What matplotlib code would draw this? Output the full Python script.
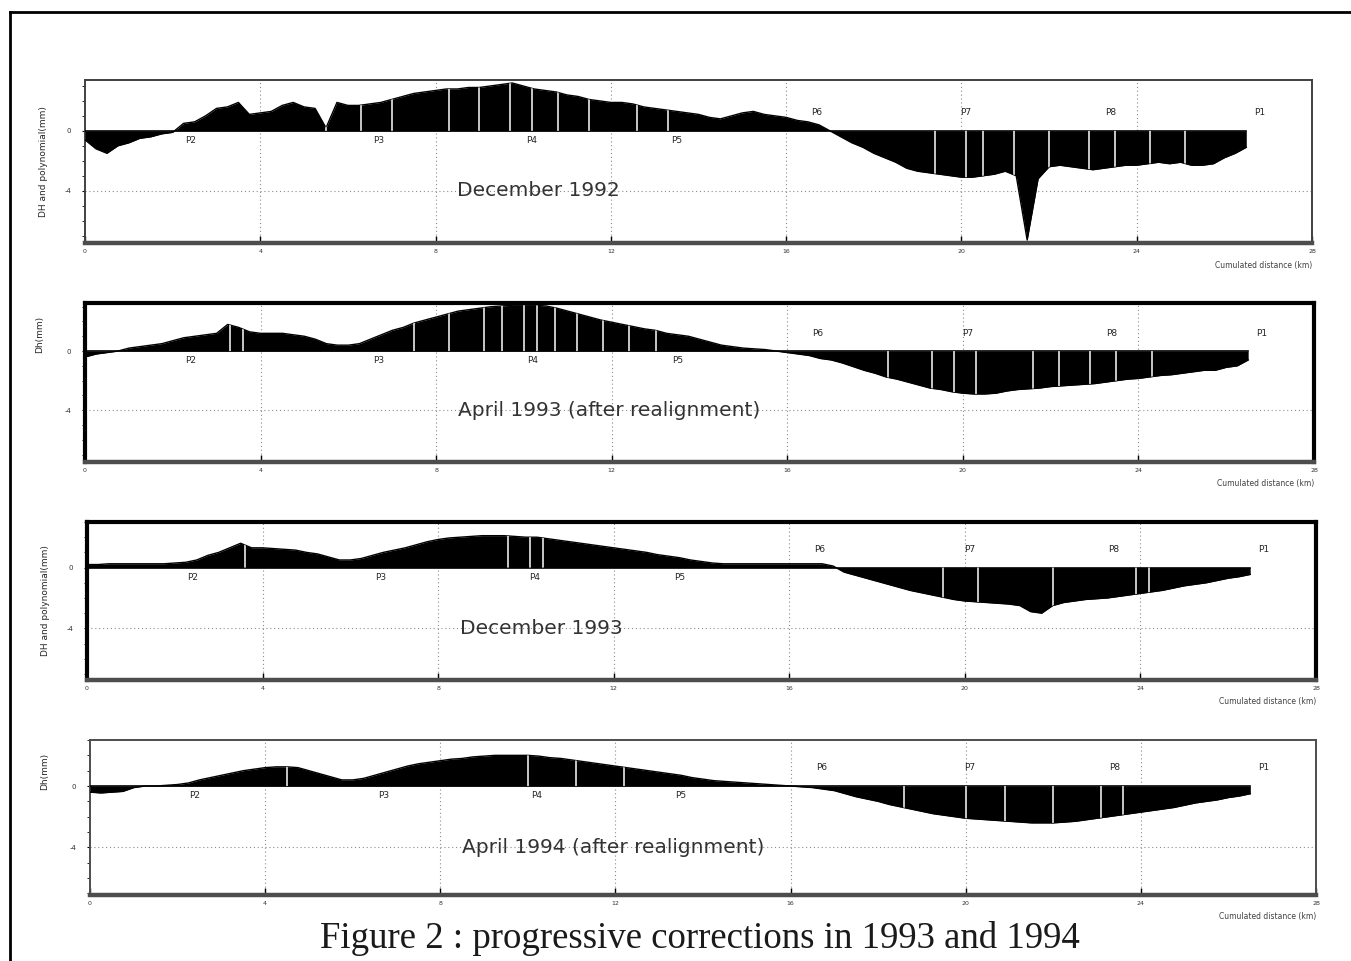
import matplotlib

matplotlib.use("Agg")
import matplotlib.pyplot as plt
import numpy as np
from matplotlib.lines import Line2D

# profiles, one value every 0.25 km from 0 km
STEP_KM = 0.25

dec92 = [-0.6, -1.2, -1.5, -1.0, -0.8, -0.5, -0.4, -0.2, -0.1,
         0.5, 0.6, 1.0, 1.5, 1.6, 1.9, 1.1, 1.2,
         1.3, 1.7, 1.9, 1.6, 1.5, 0.2, 1.9, 1.7,
         1.7, 1.8, 1.9, 2.1, 2.3, 2.5, 2.6, 2.7,
         2.8, 2.8, 2.9, 2.9, 3.0, 3.1, 3.2, 3.0,
         2.8, 2.7, 2.6, 2.4, 2.3, 2.1, 2.0, 1.9,
         1.9, 1.8, 1.6, 1.5, 1.4, 1.3, 1.2, 1.1,
         0.9, 0.8, 1.0, 1.2, 1.3, 1.1, 1.0, 0.9,
         0.7, 0.6, 0.4, 0.0, -0.4, -0.8, -1.1, -1.5,
         -1.8, -2.1, -2.5, -2.7, -2.8, -2.9, -3.0, -3.1,
         -3.1, -3.0, -2.9, -2.7, -3.0, -7.3, -3.2, -2.4,
         -2.3, -2.4, -2.5, -2.6, -2.5, -2.4, -2.3, -2.3,
         -2.2, -2.1, -2.2, -2.1, -2.3, -2.3, -2.2, -1.8,
         -1.5, -1.1]

apr93 = [-0.4, -0.2, -0.1, 0.0, 0.2, 0.3, 0.4, 0.5, 0.7,
         0.9, 1.0, 1.1, 1.2, 1.8, 1.6, 1.3, 1.2,
         1.2, 1.2, 1.1, 1.0, 0.8, 0.5, 0.4, 0.4,
         0.5, 0.8, 1.1, 1.4, 1.6, 1.9, 2.1, 2.3,
         2.5, 2.7, 2.8, 2.9, 3.0, 3.05, 3.1, 3.1,
         3.1, 3.05, 2.9, 2.7, 2.5, 2.3, 2.1, 1.95,
         1.8, 1.65, 1.5, 1.4, 1.2, 1.1, 1.0, 0.8,
         0.6, 0.4, 0.3, 0.2, 0.15, 0.1, 0.0, -0.1,
         -0.2, -0.3, -0.5, -0.6, -0.8, -1.05, -1.3, -1.5,
         -1.75, -1.9, -2.1, -2.3, -2.5, -2.6, -2.75, -2.85,
         -2.9, -2.9, -2.85, -2.7, -2.6, -2.55, -2.5, -2.4,
         -2.35, -2.3, -2.25, -2.2, -2.1, -2.0, -1.9, -1.85,
         -1.75, -1.65, -1.6, -1.5, -1.4, -1.3, -1.3, -1.1,
         -1.0, -0.6]

dec93 = [0.2, 0.2, 0.25, 0.25, 0.25, 0.25, 0.25, 0.25, 0.3,
         0.35, 0.5, 0.8, 1.0, 1.3, 1.6, 1.3, 1.3,
         1.25, 1.2, 1.15, 1.0, 0.9, 0.7, 0.5, 0.5,
         0.6, 0.8, 1.0, 1.15, 1.3, 1.5, 1.7, 1.85,
         1.95, 2.0, 2.05, 2.1, 2.1, 2.1, 2.05, 2.0,
         2.0, 1.9, 1.8, 1.7, 1.6, 1.5, 1.4, 1.3,
         1.2, 1.1, 1.0, 0.85, 0.75, 0.65, 0.5, 0.4,
         0.3, 0.25, 0.25, 0.25, 0.25, 0.25, 0.25, 0.25,
         0.25, 0.25, 0.25, 0.1, -0.3, -0.5, -0.7, -0.9,
         -1.1, -1.3, -1.5, -1.65, -1.8, -1.95, -2.1, -2.2,
         -2.25, -2.3, -2.35, -2.4, -2.5, -2.9, -3.0, -2.5,
         -2.3, -2.2, -2.1, -2.05, -2.0, -1.9, -1.8, -1.7,
         -1.6, -1.5, -1.35, -1.2, -1.1, -1.0, -0.85, -0.7,
         -0.6, -0.45]

apr94 = [-0.4, -0.45, -0.4, -0.35, -0.1, 0.0, 0.0, 0.05, 0.1,
         0.2, 0.4, 0.55, 0.7, 0.85, 1.0, 1.1, 1.2,
         1.25, 1.25, 1.2, 1.0, 0.8, 0.6, 0.4, 0.4,
         0.5, 0.7, 0.9, 1.1, 1.3, 1.45, 1.55, 1.65,
         1.75, 1.8, 1.9, 1.95, 2.0, 2.0, 2.0, 2.0,
         1.95, 1.85, 1.8, 1.7, 1.6, 1.5, 1.4, 1.3,
         1.2, 1.1, 1.0, 0.9, 0.8, 0.7, 0.55, 0.45,
         0.35, 0.3, 0.25, 0.2, 0.15, 0.1, 0.05, 0.0,
         -0.05, -0.1, -0.2, -0.3, -0.5, -0.7, -0.85, -1.0,
         -1.2, -1.35, -1.5, -1.65, -1.8, -1.9, -2.0, -2.1,
         -2.15, -2.2, -2.25, -2.3, -2.35, -2.4, -2.4, -2.4,
         -2.35, -2.3, -2.2, -2.1, -2.0, -1.9, -1.8, -1.7,
         -1.6, -1.5, -1.4, -1.25, -1.1, -1.0, -0.9, -0.75,
         -0.65, -0.5]

# light streaks inside the filled profiles (km)
streaks92 = [5.5, 6.3, 7.0, 8.3, 9.0, 9.7, 10.2, 10.8, 11.5, 12.6, 13.3,
             19.4, 20.1, 20.5, 21.2, 22.0, 22.9, 23.5, 24.3, 25.1]
streaks93a = [3.3, 3.6, 7.5, 8.3, 9.1, 9.5, 10.0, 10.3, 10.7, 11.2, 11.8, 12.4, 13.0,
              18.3, 19.3, 19.8, 20.3, 21.6, 22.2, 22.9, 23.5, 24.3]
streaks93d = [3.6, 9.6, 10.1, 10.4, 19.5, 20.3, 22.0, 23.9, 24.2]
streaks94 = [4.5, 10.0, 11.1, 12.2, 18.6, 20.0, 20.9, 22.0, 23.1, 23.6]

benchmarks = ["P2", "P3", "P4", "P5", "P6", "P7", "P8", "P1"]
benchmark_km = [2.4, 6.7, 10.2, 13.5, 16.7, 20.1, 23.4, 26.8]

x_ticks = [0, 4, 8, 12, 16, 20, 24, 28]
y_ticks = [0, -4]

titles = ["December 1992", "April 1993 (after realignment)",
          "December 1993", "April 1994 (after realignment)"]
ylabels = ["DH and polynomial(mm)", "Dh(mm)", "DH and polynomial(mm)", "Dh(mm)"]
caption = "Figure 2 : progressive corrections in 1993 and 1994"

W, H = 1351, 961
fig = plt.figure(figsize=(W / 100, H / 100), dpi=100)
fig.patch.set_facecolor("white")

# axes boxes in pixels: left, top, right, bottom
boxes = [(85, 80, 1312, 243), (85, 303, 1314, 462),
         (87, 522, 1316, 680), (90, 740, 1316, 895)]
ylims = [(-7.5, 3.4), (-7.5, 3.25), (-7.4, 2.95), (-7.1, 3.0)]
frame_w = [1.4, 3.0, 3.0, 1.4]
frame_c = ["0.25", "black", "black", "0.3"]
title_x = [8.5, 8.5, 8.5, 8.5]

profiles = [dec92, apr93, dec93, apr94]
streak_sets = [streaks92, streaks93a, streaks93d, streaks94]

for i in range(4):
    l, t, r, b = boxes[i]
    ax = fig.add_axes([l / W, 1 - b / H, (r - l) / W, (b - t) / H])
    vals = np.array(profiles[i])
    km = np.arange(len(vals)) * STEP_KM

    poly = ax.fill_between(km, vals, 0, color="black", lw=0, zorder=3)
    ax.plot(km, vals, color="black", lw=1.0, zorder=3)
    ax.plot([km[0], km[-1]], [0, 0], color="black", lw=1.2, zorder=3)
    st = ax.vlines(streak_sets[i], -8, 4, colors="#d8d8d8", lw=1.3, zorder=4)
    st.set_clip_path(poly.get_paths()[0], ax.transData)

    ax.set_xlim(0, 28)
    ax.set_ylim(*ylims[i])

    for xv in x_ticks[1:-1]:
        ax.axvline(xv, color="0.55", ls=(0, (1, 2.5)), lw=0.8, zorder=1)
    ax.axhline(-4, color="0.55", ls=(0, (1, 2.5)), lw=0.8, zorder=1)

    for name, xk in zip(benchmarks, benchmark_km):
        above = name in ("P6", "P7", "P8", "P1")
        ax.annotate(name, xy=(xk, 0), xytext=(0, 13 if above else -7),
                    textcoords="offset points", ha="center", va="center",
                    fontsize=6.5, color="0.15", zorder=5)

    ax.text(title_x[i], -4, titles[i], ha="left", va="center",
            fontsize=14.5, color="0.2", zorder=5)

    ax.set_xticks(x_ticks)
    ax.set_xticklabels([str(v) for v in x_ticks], fontsize=4.5, color="0.2")
    ax.set_yticks(y_ticks)
    ax.set_yticklabels([str(v) for v in y_ticks], fontsize=5, color="0.2")
    ax.set_yticks(np.arange(-7, 3.5, 1.0), minor=True)
    ax.tick_params(axis="x", direction="in", length=5, width=1, pad=4)
    ax.tick_params(axis="y", which="major", direction="out", length=2, pad=8)
    ax.tick_params(axis="y", which="minor", direction="out", length=2)

    for side in ("left", "top", "right"):
        ax.spines[side].set_linewidth(frame_w[i])
        ax.spines[side].set_color(frame_c[i])
    ax.spines["bottom"].set_linewidth(3.2)
    ax.spines["bottom"].set_color("0.3")

    ax.set_ylabel(ylabels[i], fontsize=6.5, color="0.15", labelpad=12)
    if ylabels[i].startswith("Dh"):
        ax.yaxis.set_label_coords(-0.033, 0.8)
    else:
        ax.yaxis.set_label_coords(-0.03, 0.5)
    ax.text(1.0, -0.11, "Cumulated distance (km)", transform=ax.transAxes,
            ha="right", va="top", fontsize=5.5, color="0.25")

# scan frame around the figure
fig.add_artist(Line2D([10 / W, 10 / W], [0, 1 - 12 / H], transform=fig.transFigure,
                      color="black", lw=2))
fig.add_artist(Line2D([10 / W, 1.0], [1 - 12 / H, 1 - 12 / H], transform=fig.transFigure,
                      color="black", lw=2))

fig.text(700 / W, 1 - 938 / H, caption, ha="center", va="center",
         fontsize=26.5, family="Liberation Serif", color="0.1")

fig.savefig("out.png", dpi=100, facecolor="white")
